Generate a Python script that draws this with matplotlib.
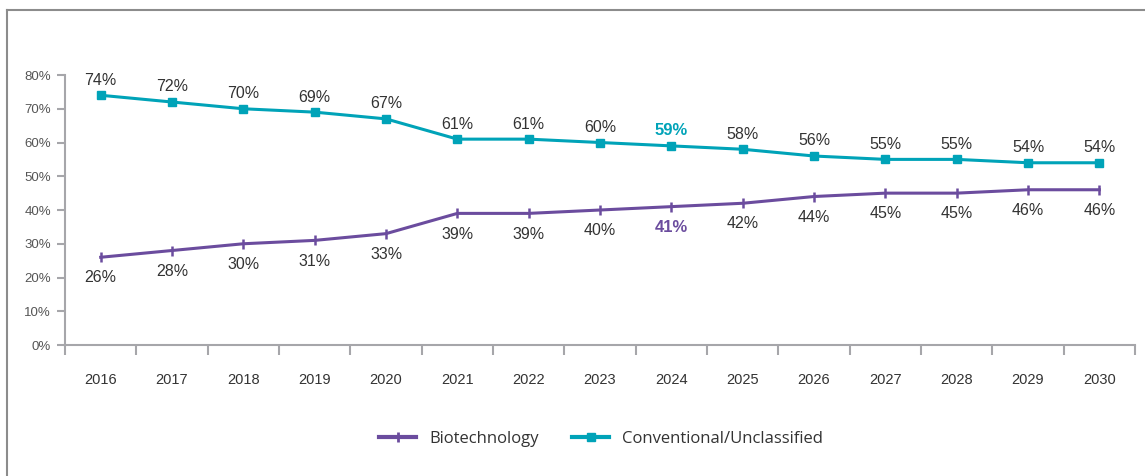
import numpy as np
import matplotlib.pyplot as plt
from matplotlib.lines import Line2D

# data
years = ["2016", "2017", "2018", "2019", "2020", "2021", "2022", "2023",
         "2024", "2025", "2026", "2027", "2028", "2029", "2030"]
biotech = [26, 28, 30, 31, 33, 39, 39, 40, 41, 42, 44, 45, 45, 46, 46]
conventional = [74, 72, 70, 69, 67, 61, 61, 60, 59, 58, 56, 55, 55, 54, 54]
highlight = "2024"

purple = "#6B4C9E"
teal = "#00A3B8"
grey = "#A6A6AA"
text_col = "#333333"

plt.rcParams['font.family'] = ['Liberation Sans', 'DejaVu Sans']

fig = plt.figure(figsize=(11.45, 4.76), dpi=100)
ax = fig.add_axes([0.0568, 0.2752, 0.9345, 0.5672])

x = np.arange(len(years))
ax.plot(x, np.array(conventional) / 100, color=teal, lw=2.2, marker='s',
        ms=5.5, zorder=3)
ax.plot(x, np.array(biotech) / 100, color=purple, lw=2.2, marker='|',
        ms=7, mew=1.8, zorder=3)

# data labels
for i, yr in enumerate(years):
    hl = yr == highlight
    ax.annotate(f"{conventional[i]}%", (i, conventional[i] / 100),
                xytext=(0, 5.5), textcoords='offset points', ha='center',
                va='bottom', fontsize=12 if hl else 11.5,
                color=teal if hl else text_col,
                fontweight='bold' if hl else 'normal')
    ax.annotate(f"{biotech[i]}%", (i, biotech[i] / 100),
                xytext=(0, -9.5), textcoords='offset points', ha='center',
                va='top', fontsize=12 if hl else 11.5,
                color=purple if hl else text_col,
                fontweight='bold' if hl else 'normal')

ax.set_xlim(-0.5, len(years) - 0.5)
ax.set_ylim(0, 0.8)
ax.set_yticks(np.arange(0, 0.81, 0.1))
ax.set_yticklabels([f"{int(round(v * 100))}%" for v in np.arange(0, 0.81, 0.1)])
ax.set_xticks(x)
ax.set_xticklabels(years)
ax.set_xticks(np.arange(-0.5, len(years)), minor=True)
ax.tick_params(axis='x', which='major', length=0, pad=20, labelsize=10.5,
               labelcolor=text_col)
ax.tick_params(axis='x', which='minor', length=7, width=1.5, color=grey)
ax.tick_params(axis='y', length=6, width=1.5, color=grey, labelsize=9.5,
               labelcolor='#555555', pad=4)

for side in ['top', 'right']:
    ax.spines[side].set_visible(False)
for side in ['left', 'bottom']:
    ax.spines[side].set_color(grey)
    ax.spines[side].set_linewidth(1.5)

handles = [
    Line2D([], [], color=purple, lw=3, marker='|', ms=7, mew=2),
    Line2D([], [], color=teal, lw=3, marker='s', ms=6),
]
fig.legend(handles, ["Biotechnology", "Conventional/Unclassified"],
           loc='center', bbox_to_anchor=(0.525, 0.078), ncol=2, frameon=False,
           handlelength=2.2, columnspacing=2.0, handletextpad=0.8,
           prop={'family': ['Open Sans', 'DejaVu Sans'], 'size': 12},
           labelcolor=text_col)

# outer frame (left and top only)
fig.add_artist(Line2D([0.0065, 0.0065], [0, 0.979], color='#8C8C8C', lw=1.5,
                      transform=fig.transFigure))
fig.add_artist(Line2D([0.0065, 1.0], [0.979, 0.979], color='#8C8C8C', lw=1.5,
                      transform=fig.transFigure))

fig.savefig("out.png", dpi=100)
